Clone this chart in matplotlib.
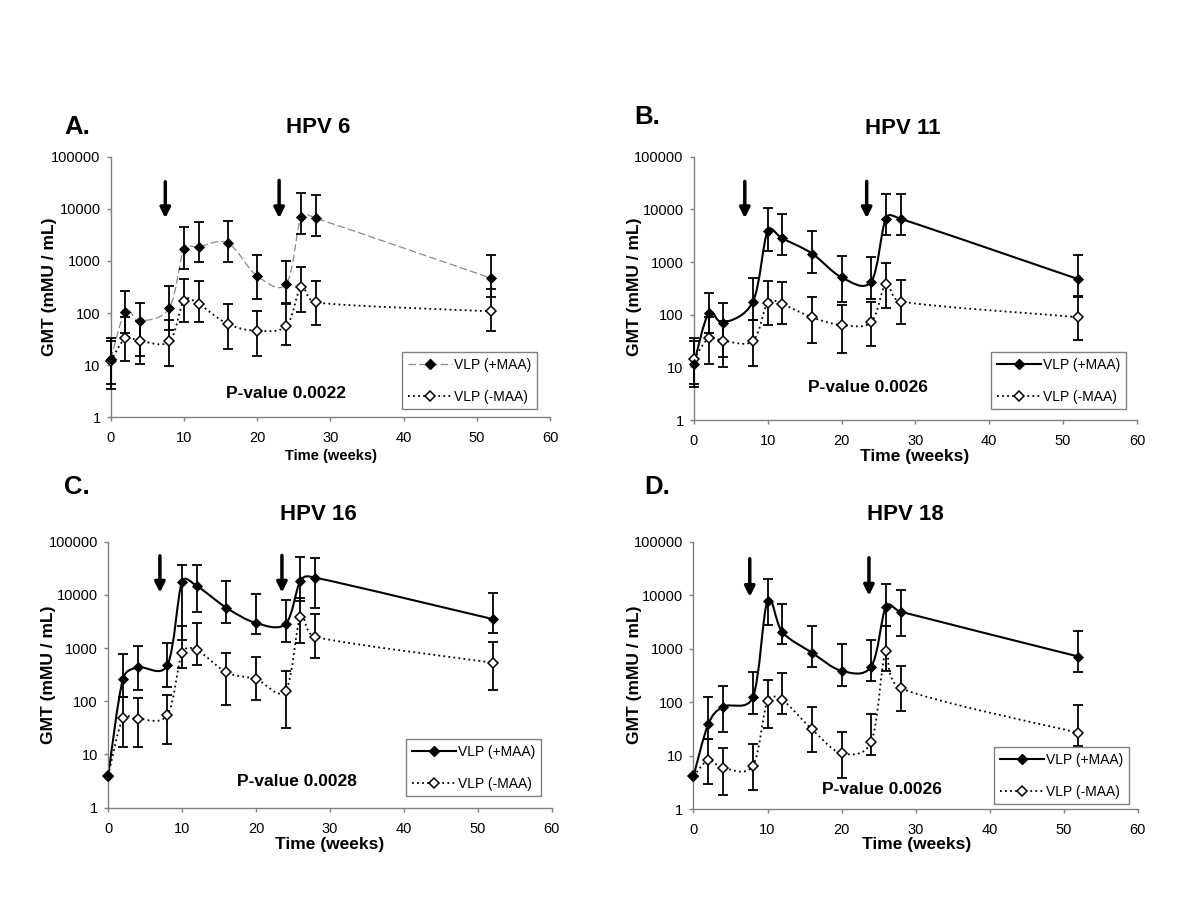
# plot.py
# HPV 6/11/16/18 GMT time course, VLP with and without MAA (4 panels)

import numpy as np
import matplotlib.pyplot as plt
from matplotlib.path import Path
from matplotlib.patches import PathPatch
from matplotlib.lines import Line2D
from matplotlib.ticker import NullLocator

plt.rcParams["font.family"] = ["Liberation Sans", "DejaVu Sans"]

weeks = [0, 2, 4, 8, 10, 12, 16, 20, 24, 26, 28, 52]

# HPV 6
hpv6_plus = [13, 107, 71, 125, 1700, 1860, 2200, 515, 366, 6900, 6600, 465]
hpv6_plus_lo = [4.3, 42, 15.2, 48, 700, 970, 940, 190, 156, 3250, 3000, 200]
hpv6_plus_hi = [33, 268, 156, 333, 4550, 5700, 5900, 1300, 1000, 20400, 18400, 1300]
hpv6_minus = [12, 33, 29.4, 28.5, 173, 149, 61.5, 45.7, 57, 315, 160, 108]
hpv6_minus_lo = [3.5, 11.8, 10.5, 9.7, 67, 66, 20.3, 14.7, 24, 107, 60, 45]
hpv6_minus_hi = [29.5, 85, 70, 74, 455, 417, 151, 112, 150, 780, 404, 290]

# HPV 11
hpv11_plus = [11.6, 106, 70.5, 177, 3900, 2800, 1450, 512, 423, 6700, 6600, 475]
hpv11_plus_lo = [4.2, 45, 16, 79, 1650, 1350, 620, 174, 195, 3300, 3300, 226]
hpv11_plus_hi = [31.6, 255, 164, 500, 10600, 8100, 3900, 1300, 1230, 20000, 20000, 1340]
hpv11_minus = [14.2, 35.6, 32, 31.7, 169, 158, 89, 63.7, 72, 383, 178, 90]
hpv11_minus_lo = [4.8, 11.5, 10.3, 10.6, 64, 66, 28.7, 18.5, 25.6, 132, 66, 33]
hpv11_minus_hi = [35.6, 90, 75, 78, 436, 423, 220, 152, 177, 940, 455, 214]

# HPV 16
hpv16_plus = [4, 260, 435, 475, 17700, 14700, 5700, 2950, 2850, 18300, 21000, 3500]
hpv16_plus_lo = [4, 118, 165, 185, 1420, 4700, 3000, 1800, 1320, 7800, 5600, 1900]
hpv16_plus_hi = [4, 760, 1100, 1260, 37000, 36000, 18500, 10200, 8100, 51000, 49000, 11000]
hpv16_minus = [4, 48, 47, 55, 800, 920, 350, 260, 158, 3800, 1620, 530]
hpv16_minus_lo = [4, 14, 14, 15.7, 430, 480, 85, 104, 32, 1260, 660, 165]
hpv16_minus_hi = [4, 120, 113, 133, 2600, 2900, 790, 690, 365, 8900, 4400, 1320]

# HPV 18
hpv18_plus = [4.1, 38.7, 82, 122, 7800, 2040, 840, 385, 460, 6100, 4900, 710]
hpv18_plus_lo = [4.1, 20.4, 27.9, 59.6, 2760, 1200, 450, 203, 250, 2600, 1730, 360]
hpv18_plus_hi = [4.1, 122, 202, 358, 19800, 6900, 2650, 1200, 1450, 16500, 12500, 2140]
hpv18_minus = [4.1, 8.2, 5.9, 6.4, 106, 109, 31, 11, 18.1, 910, 182, 26.5]
hpv18_minus_lo = [4.1, 2.9, 1.8, 2.3, 33, 61, 11.8, 3.85, 10.2, 385, 69, 14.9]
hpv18_minus_hi = [4.1, 20, 14, 16.2, 258, 353, 82, 27.9, 58.8, 2650, 470, 87]

# vaccination arrows: (week, tail, tip)
hpv6_arrows = [(7.45, 33000, 6600), (23.0, 35000, 6600)]
hpv11_arrows = [(6.9, 34000, 6800), (23.4, 34000, 6800)]
hpv16_arrows = [(7.0, 54000, 11000), (23.5, 55000, 11000)]
hpv18_arrows = [(7.6, 48000, 9300), (23.7, 50000, 9800)]

p_values = ["P-value 0.0022", "P-value 0.0026", "P-value 0.0028", "P-value 0.0026"]
titles = ["HPV 6", "HPV 11", "HPV 16", "HPV 18"]
letters = ["A.", "B.", "C.", "D."]
ytick_vals = [1, 10, 100, 1000, 10000, 100000]
ytick_labels = ["1", "10", "100", "1000", "10000", "100000"]

W, H = 1200.0, 900.0


def fx(px):
    return px / W


def fy(py):
    return 1 - py / H


def smooth_path(x, y, w, h):
    # Excel-style smoothed line, built as cubic bezier segments in screen-like space
    u = np.asarray(x, float) / 60.0 * w
    v = np.log10(np.asarray(y, float)) / 5.0 * h
    pts = np.column_stack([u, v])
    n = len(pts)
    verts = [pts[0]]
    codes = [Path.MOVETO]
    for i in range(n - 1):
        p0 = pts[max(i - 1, 0)]
        p1, p2 = pts[i], pts[i + 1]
        p3 = pts[min(i + 2, n - 1)]
        seg = np.hypot(*(p2 - p1))
        t1 = (p2 - p0) / 6.0
        t2 = (p3 - p1) / 6.0
        l1, l2 = np.hypot(*t1), np.hypot(*t2)
        if l1 > 0.5 * seg:
            t1 = t1 * 0.5 * seg / l1
        if l2 > 0.5 * seg:
            t2 = t2 * 0.5 * seg / l2
        verts += [p1 + t1, p2 - t2, p2]
        codes += [Path.CURVE4] * 3
    verts = np.array(verts)
    data = np.column_stack([verts[:, 0] / w * 60.0, 10 ** (verts[:, 1] / h * 5.0)])
    return Path(data, codes)


panels = [
    dict(rect=[0.0923, 0.5363, 0.3660, 0.2896],
         plus=(hpv6_plus, hpv6_plus_lo, hpv6_plus_hi),
         minus=(hpv6_minus, hpv6_minus_lo, hpv6_minus_hi),
         arrows=hpv6_arrows, dashed_plus=True,
         letter_xy=(77, 127), title_xy=(318, 127.5), ylab_xy=(50, 287),
         xlab_xy=(331, 456), xlab_size=10.5, p_xy=(286, 393),
         leg_xy=(402, 352)),
    dict(rect=[0.5782, 0.5333, 0.3693, 0.2926],
         plus=(hpv11_plus, hpv11_plus_lo, hpv11_plus_hi),
         minus=(hpv11_minus, hpv11_minus_lo, hpv11_minus_hi),
         arrows=hpv11_arrows, dashed_plus=False,
         letter_xy=(647, 117), title_xy=(903, 128), ylab_xy=(635, 287),
         xlab_xy=(915, 457), xlab_size=12.5, p_xy=(868, 387),
         leg_xy=(991, 352)),
    dict(rect=[0.0901, 0.1026, 0.3698, 0.2956],
         plus=(hpv16_plus, hpv16_plus_lo, hpv16_plus_hi),
         minus=(hpv16_minus, hpv16_minus_lo, hpv16_minus_hi),
         arrows=hpv16_arrows, dashed_plus=False,
         letter_xy=(77, 487), title_xy=(318, 515), ylab_xy=(49, 675),
         xlab_xy=(330, 844), xlab_size=12.5, p_xy=(297, 782),
         leg_xy=(406, 739)),
    dict(rect=[0.5779, 0.1011, 0.3702, 0.2970],
         plus=(hpv18_plus, hpv18_plus_lo, hpv18_plus_hi),
         minus=(hpv18_minus, hpv18_minus_lo, hpv18_minus_hi),
         arrows=hpv18_arrows, dashed_plus=False,
         letter_xy=(657, 487), title_xy=(905, 515), ylab_xy=(635, 675),
         xlab_xy=(917, 845), xlab_size=12.5, p_xy=(882, 789),
         leg_xy=(994, 747)),
]

fig = plt.figure(figsize=(12, 9), dpi=100)
fig.patch.set_facecolor("white")

for k, p in enumerate(panels):
    ax = fig.add_axes(p["rect"])
    ax.set_yscale("log")
    w_px = p["rect"][2] * W
    h_px = p["rect"][3] * H

    if p["dashed_plus"]:
        plus_style = dict(edgecolor="#8a8a8a", linewidth=0.9, linestyle=(0, (6, 2.6)))
    else:
        plus_style = dict(edgecolor="black", linewidth=1.5, linestyle="-")
    minus_style = dict(edgecolor="black", linewidth=1.3, linestyle=(0, (1, 1.8)))

    m, m_lo, m_hi = [np.array(a, float) for a in p["minus"]]
    v, v_lo, v_hi = [np.array(a, float) for a in p["plus"]]

    ax.add_patch(PathPatch(smooth_path(weeks, m, w_px, h_px), fill=False,
                           capstyle="butt", zorder=2, **minus_style))
    ax.add_patch(PathPatch(smooth_path(weeks, v, w_px, h_px), fill=False,
                           capstyle="butt", zorder=2, **plus_style))

    ax.errorbar(weeks, m, yerr=[m - m_lo, m_hi - m], fmt="none", ecolor="black",
                elinewidth=1.3, capsize=3.8, capthick=1.3, zorder=3, clip_on=False)
    ax.errorbar(weeks, v, yerr=[v - v_lo, v_hi - v], fmt="none", ecolor="black",
                elinewidth=1.3, capsize=3.8, capthick=1.3, zorder=3, clip_on=False)
    ax.plot(weeks, m, linestyle="none", marker="D", ms=4.7, mfc="white",
            mec="black", mew=1.1, zorder=4, clip_on=False)
    ax.plot(weeks, v, linestyle="none", marker="D", ms=5.2, mfc="black",
            mec="black", mew=0.6, zorder=5, clip_on=False)

    for wk, tail, tip in p["arrows"]:
        ax.annotate("", xy=(wk, tip), xytext=(wk, tail),
                    arrowprops=dict(arrowstyle="-|>,head_length=0.6,head_width=0.3",
                                    lw=2.5, color="black", shrinkA=0, shrinkB=0,
                                    mutation_scale=10))

    ax.set_xlim(0, 60)
    ax.set_ylim(1, 100000)
    ax.set_xticks(range(0, 61, 10))
    ax.set_yticks(ytick_vals)
    ax.set_yticklabels(ytick_labels)
    ax.yaxis.set_minor_locator(NullLocator())
    for s in ["top", "right"]:
        ax.spines[s].set_visible(False)
    for s in ["left", "bottom"]:
        ax.spines[s].set_color("#808080")
        ax.spines[s].set_linewidth(1.0)
    ax.tick_params(axis="both", direction="out", length=3, width=1.0,
                   color="#808080", labelcolor="black", labelsize=10.5)
    ax.tick_params(axis="x", pad=7)
    ax.tick_params(axis="y", pad=4.3)

    handles = [
        Line2D([], [], color=plus_style["edgecolor"], lw=plus_style["linewidth"],
               linestyle=plus_style["linestyle"], marker="D", ms=5.2,
               mfc="black", mec="black"),
        Line2D([], [], color="black", lw=1.3, linestyle=(0, (1, 1.8)),
               marker="D", ms=4.7, mfc="white", mec="black", mew=1.1),
    ]
    lx, ly = p["leg_xy"]
    leg = ax.legend(handles, ["VLP (+MAA)", "VLP (-MAA)"], loc="upper left",
                    bbox_to_anchor=(fx(lx), fy(ly)), bbox_transform=fig.transFigure,
                    borderaxespad=0, fontsize=10, handlelength=3.2,
                    handletextpad=0.15, labelspacing=1.3, borderpad=0.4,
                    fancybox=False, framealpha=1, edgecolor="#808080")
    leg.get_frame().set_linewidth(1.0)

    x, y = p["letter_xy"]
    fig.text(fx(x), fy(y), letters[k], ha="center", va="center",
             fontsize=18.5, fontweight="bold")
    x, y = p["title_xy"]
    fig.text(fx(x), fy(y), titles[k], ha="center", va="center",
             fontsize=16, fontweight="bold")
    x, y = p["ylab_xy"]
    fig.text(fx(x), fy(y), "GMT (mMU / mL)", ha="center", va="center",
             rotation=90, fontsize=12.5, fontweight="bold")
    x, y = p["xlab_xy"]
    fig.text(fx(x), fy(y), "Time (weeks)", ha="center", va="center",
             fontsize=p["xlab_size"], fontweight="bold")
    x, y = p["p_xy"]
    fig.text(fx(x), fy(y), p_values[k], ha="center", va="center",
             fontsize=12.5, fontweight="bold")

fig.savefig("out.png", dpi=100)
print("Saved out.png")
